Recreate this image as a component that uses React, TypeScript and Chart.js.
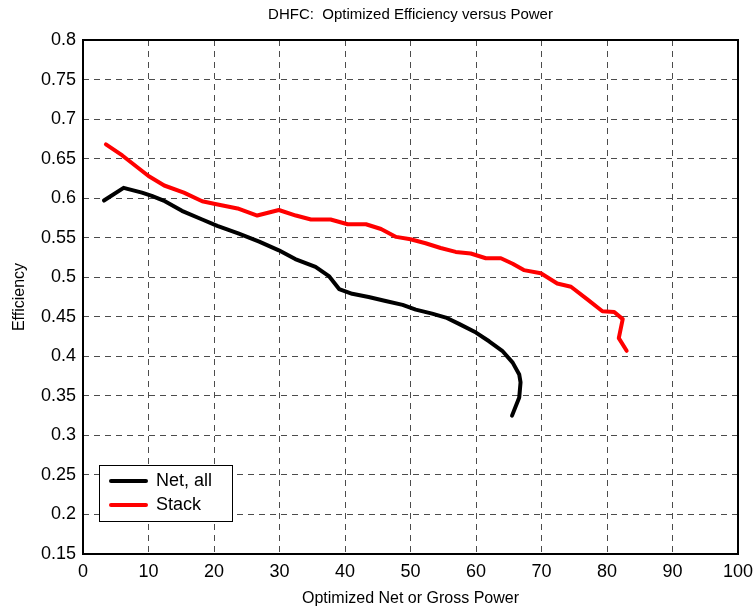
import React, { useEffect, useRef } from "react";
import { Chart, registerables } from "chart.js";

Chart.register(...registerables);

const TITLE = "DHFC:  Optimized Efficiency versus Power";
const X_LABEL = "Optimized Net or Gross Power";
const Y_LABEL = "Efficiency";
const SERIES_NAMES = ["Net, all", "Stack"];

const netX = [3.2, 6.2, 9.0, 10.5, 12.3, 15.1, 18.2, 20.5, 23.8, 26.9, 29.9, 32.4, 35.5, 37.6, 39.1, 41.1, 43.6, 46.2, 48.8, 50.8, 53.3, 55.4, 57.4, 60.0, 62.0, 64.0, 65.6, 66.6, 66.8, 66.6, 65.5];
const netY = [0.597, 0.613, 0.607, 0.603, 0.597, 0.584, 0.573, 0.565, 0.555, 0.545, 0.534, 0.523, 0.513, 0.501, 0.485, 0.479, 0.475, 0.47, 0.465, 0.459, 0.454, 0.449, 0.441, 0.43, 0.419, 0.407, 0.392, 0.377, 0.367, 0.348, 0.325];

const stackX = [3.5, 6.0, 10.0, 12.4, 15.4, 18.2, 20.0, 23.6, 26.6, 29.9, 32.5, 34.8, 37.8, 40.4, 43.2, 45.5, 47.8, 50.0, 52.3, 54.6, 56.9, 59.2, 61.5, 63.8, 65.6, 67.3, 69.9, 72.4, 74.5, 77.0, 79.3, 81.1, 82.4, 81.8, 83.0];
const stackY = [0.668, 0.654, 0.628, 0.616, 0.607, 0.596, 0.593, 0.587, 0.578, 0.585, 0.578, 0.573, 0.573, 0.567, 0.567, 0.561, 0.551, 0.548, 0.543, 0.537, 0.532, 0.53, 0.524, 0.524, 0.517, 0.509, 0.505, 0.492, 0.488, 0.472, 0.457, 0.456, 0.447, 0.423, 0.407];

const X_MIN = 0, X_MAX = 100, X_STEP = 10;
const Y_MIN = 0.15, Y_MAX = 0.8, Y_STEP = 0.05;

const FONT = "'Liberation Sans', Arial, Helvetica, sans-serif";

export default function App() {
  const ref = useRef<HTMLCanvasElement>(null);
  useEffect(() => {
    const canvas = ref.current!;
    const toPts = (xs: number[], ys: number[]) => xs.map((x, i) => ({ x, y: ys[i] }));
    const decor = {
      id: "decor",
      afterDraw(chart: any) {
        const { ctx, chartArea: a } = chart;
        ctx.save();
        // box
        ctx.strokeStyle = "#000";
        ctx.lineWidth = 2;
        ctx.setLineDash([]);
        ctx.strokeRect(Math.round(a.left), Math.round(a.top), Math.round(a.right - a.left), Math.round(a.bottom - a.top));
        // title
        ctx.fillStyle = "#000";
        ctx.font = `15px ${FONT}`;
        ctx.textAlign = "center";
        ctx.textBaseline = "middle";
        ctx.fillText(TITLE, (a.left + a.right) / 2, 15);
        // x label
        ctx.font = `16px ${FONT}`;
        ctx.fillText(X_LABEL, (a.left + a.right) / 2, 599);
        // y label
        ctx.save();
        ctx.translate(20, (a.top + a.bottom) / 2);
        ctx.rotate(-Math.PI / 2);
        ctx.fillText(Y_LABEL, 0, 0);
        ctx.restore();
        // legend
        const lx = 99, ly = 465, lw = 133, lh = 56;
        ctx.fillStyle = "#fff";
        ctx.fillRect(lx, ly, lw, lh);
        ctx.strokeStyle = "#000";
        ctx.lineWidth = 1;
        ctx.strokeRect(lx + 0.5, ly + 0.5, lw, lh);
        chart.data.datasets.forEach((ds: any, i: number) => {
          const yy = ly + 16 + i * 24;
          ctx.strokeStyle = ds.borderColor;
          ctx.lineWidth = 4;
          ctx.lineCap = "round";
          ctx.beginPath();
          ctx.moveTo(lx + 12, yy);
          ctx.lineTo(lx + 47, yy);
          ctx.stroke();
          ctx.fillStyle = "#000";
          ctx.font = `18px ${FONT}`;
          ctx.textAlign = "left";
          ctx.textBaseline = "middle";
          ctx.fillText(ds.label, lx + 57, yy);
        });
        ctx.restore();
      },
    };
    const chart = new Chart(canvas, {
      type: "line",
      data: {
        datasets: [
          {
            label: SERIES_NAMES[0],
            data: toPts(netX, netY),
            borderColor: "#000000",
            borderWidth: 4,
            pointRadius: 0,
            tension: 0,
            fill: false,
            borderCapStyle: "round",
            borderJoinStyle: "round",
          },
          {
            label: SERIES_NAMES[1],
            data: toPts(stackX, stackY),
            borderColor: "#ff0000",
            borderWidth: 4,
            pointRadius: 0,
            tension: 0,
            fill: false,
            borderCapStyle: "round",
            borderJoinStyle: "round",
          },
        ],
      },
      options: {
        animation: false,
        responsive: false,
        devicePixelRatio: 1,
        layout: { padding: { left: 0, top: 40, right: 17, bottom: 0 } },
        plugins: { legend: { display: false }, title: { display: false }, tooltip: { enabled: false } },
        scales: {
          x: {
            type: "linear",
            min: X_MIN,
            max: X_MAX,
            ticks: {
              stepSize: X_STEP,
              color: "#000",
              font: { family: FONT, size: 18 },
              padding: 7,
              maxRotation: 0,
            },
            grid: {
              color: "rgba(0,0,0,0.7)",
              lineWidth: 1,
              drawTicks: false,
            },
            border: { display: false, dash: [6, 5] },
            afterFit: (s: any) => { s.height = 59; s.paddingRight = 0; s.paddingLeft = 0; },
          },
          y: {
            type: "linear",
            min: Y_MIN,
            max: Y_MAX,
            ticks: {
              stepSize: Y_STEP,
              color: "#000",
              font: { family: FONT, size: 18 },
              padding: 7,
              callback: (v: any) => String(+Number(v).toFixed(2)),
            },
            grid: {
              color: "rgba(0,0,0,0.7)",
              lineWidth: 1,
              drawTicks: false,
            },
            border: { display: false, dash: [6, 5] },
            afterFit: (s: any) => { s.width = 83; s.paddingTop = 0; s.paddingBottom = 0; },
          },
        },
      },
      plugins: [decor],
    } as any);
    return () => chart.destroy();
  }, []);
  return (
    <div style={{ position: "fixed", left: 0, top: 0, width: 755, height: 613, background: "#fff" }}>
      <canvas ref={ref} width={755} height={613} style={{ width: 755, height: 613, display: "block" }} />
    </div>
  );
}
